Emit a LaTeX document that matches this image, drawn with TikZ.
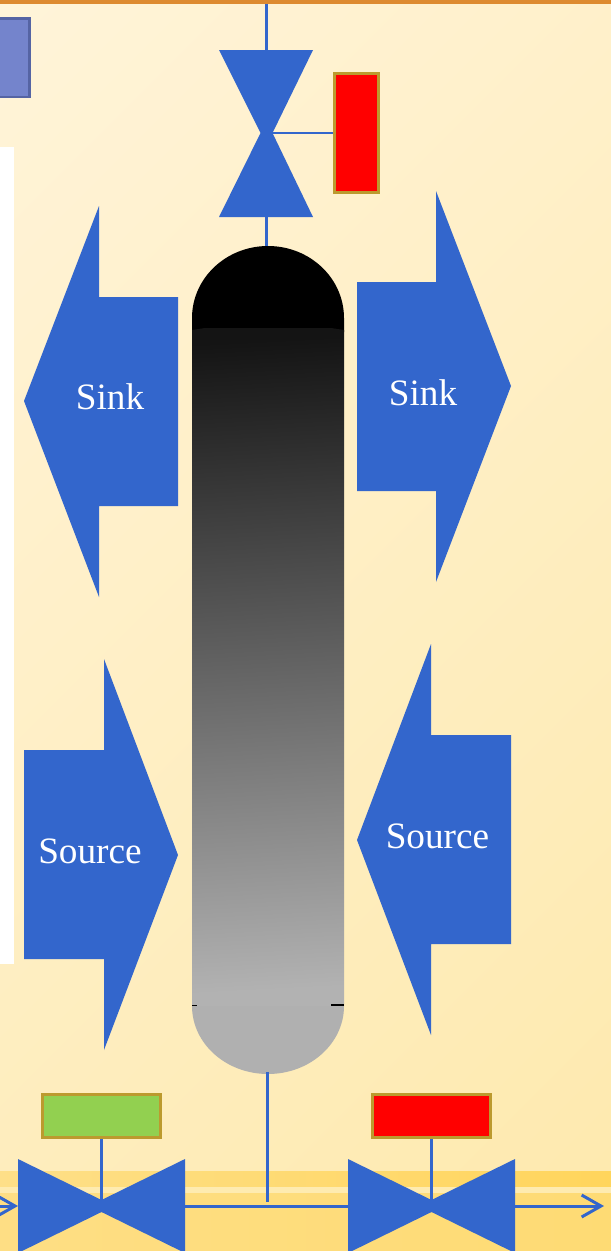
\documentclass[tikz,border=0pt]{standalone}
\usepackage{fontspec}
\setmainfont{Liberation Serif}
\usetikzlibrary{arrows.meta}
\definecolor{pipeblue}{HTML}{3366CC}
\definecolor{boxedge}{HTML}{BC9A2E}
\definecolor{okgreen}{HTML}{92D050}
\definecolor{bgstart}{HTML}{FFF6E2}
\definecolor{bgend}{HTML}{FEE7A4}
\definecolor{bandleft}{HTML}{FEDF88}
\definecolor{bandright}{HTML}{FFD55C}
\definecolor{floorleft}{HTML}{FEDE84}
\definecolor{floorright}{HTML}{FEDB74}
\definecolor{bandlight}{HTML}{FEEBB0}
\definecolor{bandorange}{HTML}{DD8A30}
\definecolor{tabfill}{HTML}{7484CC}
\definecolor{tabedge}{HTML}{5564A4}
\tikzset{
  pipe/.style={draw=pipeblue,line width=1.7pt},
  shapefill/.style={fill=pipeblue},
  flowtext/.style={text=white,font=\fontsize{21.2}{25}\selectfont},
  indicator/.style={draw=boxedge,line width=1.6pt,inner sep=0pt},
}
\begin{document}
\begin{tikzpicture}[x=.02cm,y=-.02cm]
\useasboundingbox (0,0) rectangle (611,1251);
\clip (0,0) rectangle (611,1251);
% background
\shade[left color=bgstart,right color=bgend,shading angle=45] (-625.5,-305.5) rectangle (1236.5,1556.5);
\shade[left color=bandleft,right color=bandright] (0,1171) rectangle (611,1187);
\fill[bandlight] (0,1187) rectangle (611,1193);
\shade[left color=floorleft,right color=floorright] (0,1193) rectangle (611,1251);
\fill[bandorange] (0,0) rectangle (611,4);
\fill[white] (0,147) rectangle (14,964);
\draw[fill=tabfill,draw=tabedge,line width=1.2pt] (-10,18.5) rectangle (29.5,97);

% vessel
\fill[black] (192,318) arc [start angle=180, end angle=360, x radius=76, y radius=72] -- (344,332) -- (192,332) -- cycle;
\fill[black!31] (192,1006) arc [start angle=180, end angle=0, x radius=76, y radius=68] -- cycle;
\shade[top color=black!92,bottom color=black!30,shading angle=3] (192,330) -- (205,328) -- (331,328) -- (344,330) -- (344,1006) -- (192,1006) -- cycle;
\fill[black] (192,1004.5) rectangle (197,1005.5);
\fill[black] (331,1003.5) rectangle (344,1005.5);

% top valve
\coordinate (topvalve) at (266.5,133);
\coordinate (topfree) at (266.5,4);
\coordinate (domefree) at (266.5,246);
\coordinate (topin) at (266.5,50);
\coordinate (topout) at (266.5,217);
\fill[shapefill] (219,50)--(313,50)--(272.5,133)--(313,217)--(219,217)--(260.5,133)--cycle;
\node[indicator,fill=red,minimum width=25.1pt,minimum height=67.8pt] (topbox) at (356.5,133) {};
\draw[pipe] (topfree)--(topin);
\draw[pipe] (topout)--(domefree);
\draw[pipe] (topvalve)--(topbox.west);

% big arrows
\fill[shapefill] (24,401)--(99,206)--(99,297)--(178,297)--(178,506)--(99,506)--(99,597)--cycle;
\fill[shapefill] (511,386)--(436,191)--(436,282)--(357,282)--(357,491)--(436,491)--(436,582)--cycle;
\fill[shapefill] (178,855)--(104,659)--(104,750)--(24,750)--(24,959)--(104,959)--(104,1050)--cycle;
\fill[shapefill] (357,840)--(431,644)--(431,735)--(511,735)--(511,944)--(431,944)--(431,1035)--cycle;
\node[flowtext] (sinkleft) at (110,397) {Sink};
\node[flowtext] (sinkright) at (423,393) {Sink};
\node[flowtext] (sourceleft) at (90,851) {Source};
\node[flowtext] (sourceright) at (437.5,836) {Source};

% bottom valves
\coordinate (leftvalve) at (101.5,1206);
\coordinate (rightvalve) at (431.5,1206);
\coordinate (leftin) at (18,1206);
\coordinate (leftout) at (185,1206);
\coordinate (rightin) at (348,1206);
\coordinate (rightout) at (515,1206);
\coordinate (linestart) at (-5,1206);
\coordinate (lineend) at (604,1206);
\coordinate (vesselfoot) at (267.5,1072);
\coordinate (vesseljoin) at (267.5,1202);
\fill[shapefill] (18,1159)--(101.5,1200)--(185,1159)--(185,1253)--(101.5,1212)--(18,1253)--cycle;
\fill[shapefill] (348,1159)--(431.5,1200)--(515,1159)--(515,1253)--(431.5,1212)--(348,1253)--cycle;
\node[indicator,fill=okgreen,minimum width=67.3pt,minimum height=24.6pt] (leftbox) at (101.5,1116) {};
\node[indicator,fill=red,minimum width=67.3pt,minimum height=24.6pt] (rightbox) at (431.5,1116) {};
\draw[pipe] (leftbox.south)--(leftvalve);
\draw[pipe] (rightbox.south)--(rightvalve);
\draw[pipe] (vesselfoot)--(vesseljoin);
\draw[pipe] (leftout)--(rightin);
\draw[pipe,-{Straight Barb[length=11pt,width=12.5pt]}] (linestart)--(leftin);
\draw[pipe,-{Straight Barb[length=11pt,width=12.5pt]}] (rightout)--(lineend);
\end{tikzpicture}
\end{document}
